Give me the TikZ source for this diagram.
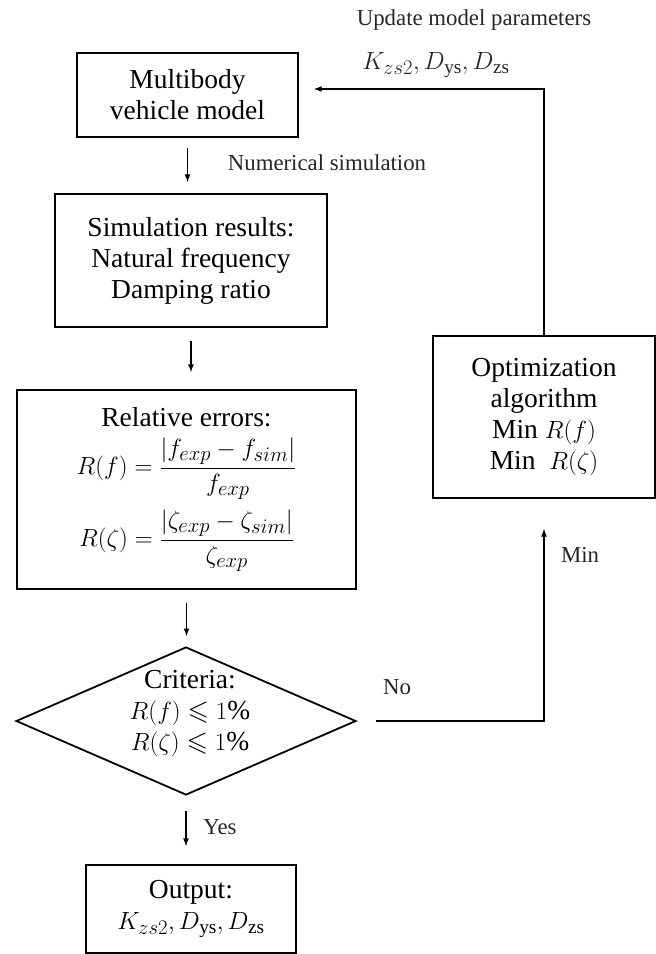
\documentclass[tikz,border=0pt]{standalone}
\usepackage{amsmath}
\usepackage{amssymb}
\usepackage{fontspec}
\setmainfont{Liberation Serif}
\usetikzlibrary{shapes.geometric}
\usetikzlibrary{calc}
\newcommand{\boxsize}{\fontsize{27.5}{31}\selectfont}
\newcommand{\tagsize}{\fontsize{22.8}{26}\selectfont}

\begin{document}
\begin{tikzpicture}[-latex,x=1pt,y=-1pt,line width=1.6pt,
stage/.style = {draw, line width=2pt, align=center, inner sep=0pt, font=\boxsize},
decision/.style = {diamond, draw, line width=1.8pt, inner sep=0pt},
tag/.style = {align=center, font=\tagsize, text=black!85}
]

\useasboundingbox (0,0) rectangle (656,954);

\node [stage, minimum width=221pt, minimum height=84pt] (model) at (187.5,95) {Multibody\\vehicle model};
\node [stage, minimum width=272pt, minimum height=133pt] (sim) at (191,260.5) {Simulation results:\\Natural frequency\\Damping ratio};
\node [stage, minimum width=339pt, minimum height=199pt] (err) at (186.5,489.5) {Relative errors:\\[10pt]
  $R(f)=\dfrac{|f_{exp}-f_{sim}|}{f_{exp}}$\\[10pt]
  $R(\zeta)=\dfrac{|\zeta_{exp}-\zeta_{sim}|}{\zeta_{exp}}$};
\node [decision, minimum width=340pt, minimum height=148pt] (crit) at (186,721) {};
\node [align=center, font=\boxsize] (crittext) at (190,713) {Criteria:\\$R(f)\leqslant 1\%$\\$R(\zeta)\leqslant 1\%$};
\node [stage, minimum width=210pt, minimum height=88pt] (out) at (191,909) {Output:\\$K_{zs2}, D_{\mathrm{ys}}, D_{\mathrm{zs}}$};
\node [stage, minimum width=222pt, minimum height=162pt] (opt) at (544,417) {Optimization\\algorithm\\Min $R(f)$\\Min\ \ $R(\zeta)$};

\node [tag] (upd) at (474,20) {Update model parameters};
\node [tag, font=\boxsize] (params) at (436,65) {$K_{zs2}, D_{\mathrm{ys}}, D_{\mathrm{zs}}$};
\node [tag] (numsim) at (327,163) {Numerical simulation};
\node [tag] (no) at (397,687) {No};
\node [tag] (min) at (580,555) {Min};
\node [tag] (yes) at (220,827) {Yes};

\draw [shorten <=10pt, shorten >=11pt] (model.south) -- (model.south |- sim.north);
\draw [shorten <=13pt, shorten >=17pt] (sim.south) -- (sim.south |- err.north);
\draw [shorten <=13pt, shorten >=10pt] (err.south) -- (err.south |- crit.north);
\draw [shorten <=15pt, shorten >=18pt] (crit.south) -- (crit.south |- out.north);
\draw [shorten <=19pt, shorten >=30pt] (crit.east) -| (opt.south);
\draw [shorten >=15pt] (opt.north) |- ($ (model.east) + (0,-6) $);

\end{tikzpicture}
\end{document}
